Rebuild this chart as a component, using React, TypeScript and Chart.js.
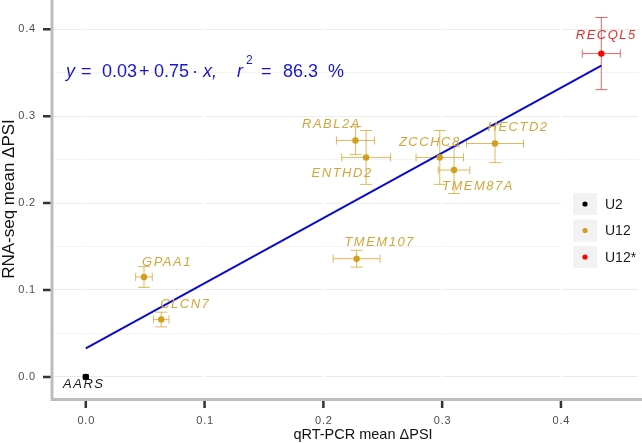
import React, { useEffect, useRef } from 'react';
import { Chart, registerables } from 'chart.js';

Chart.register(...registerables);

// ---------------- data ----------------
const genes = ['AARS', 'GPAA1', 'CLCN7', 'TMEM107', 'RABL2A', 'ENTHD2', 'ZCCHC8', 'TMEM87A', 'HECTD2', 'RECQL5'];
const groups = ['U2', 'U12', 'U12', 'U12', 'U12', 'U12', 'U12', 'U12', 'U12', 'U12*'];
const qpcrMean = [0, 0.049, 0.0635, 0.228, 0.227, 0.236, 0.298, 0.31, 0.3445, 0.434];
const qpcrErr = [0.002, 0.007, 0.0065, 0.0197, 0.016, 0.0205, 0.02, 0.0133, 0.024, 0.016];
const rnaseqMean = [0, 0.115, 0.066, 0.136, 0.272, 0.2525, 0.2525, 0.238, 0.2685, 0.372];
const rnaseqErr = [0.002, 0.012, 0.0085, 0.0097, 0.016, 0.031, 0.031, 0.027, 0.022, 0.0415];
const fitX = [0, 0.434];
const fitY = [0.0327, 0.358];
const legendLabels = ['U2', 'U12', 'U12*'];
const xTicks = [0, 0.1, 0.2, 0.3, 0.4];
const yTicks = [0, 0.1, 0.2, 0.3, 0.4];
const tickLabel = (v: number) => v.toFixed(1);

// ---------------- styles / layout ----------------
const FONT = '"Liberation Sans", Arial, Helvetica, sans-serif';
const pointColor: Record<string, string> = { U2: '#000000', U12: '#D39E1E', 'U12*': '#FF0000' };
const barColor: Record<string, string> = { U2: 'rgba(0,0,0,0.7)', U12: 'rgba(214,160,40,0.75)', 'U12*': 'rgba(238,50,50,0.75)' };
const labelColor: Record<string, string> = { U2: '#1a1a1a', U12: '#D4A53A', 'U12*': '#E2302C' };
// label offsets in pixels (dx, dy) relative to the point
const labelOffsets: [number, number][] = [
  [-2, 7], [23, -15], [24, -15], [23, -16], [-24, -16], [-24, 16], [-10, -15], [24, 16], [23, -16], [5, -18],
];

const W = 642;
const H = 443;

const customPlugin = {
  id: 'customDraw',
  beforeDraw(chart: any) {
    const ctx = chart.ctx;
    ctx.save();
    ctx.fillStyle = '#ffffff';
    ctx.fillRect(0, 0, chart.width, chart.height);
    ctx.restore();
  },
  beforeDatasetsDraw(chart: any) {
    const { ctx, chartArea, scales } = chart;
    const x = scales.x;
    const y = scales.y;
    ctx.save();
    // white vertical major grid lines
    ctx.strokeStyle = '#ffffff';
    ctx.lineWidth = 2;
    xTicks.forEach((v) => {
      const px = x.getPixelForValue(v);
      ctx.beginPath();
      ctx.moveTo(px, chartArea.top);
      ctx.lineTo(px, chartArea.bottom);
      ctx.stroke();
    });
    // error bars
    ctx.lineWidth = 1;
    for (let i = 0; i < genes.length; i++) {
      const g = groups[i];
      ctx.strokeStyle = barColor[g];
      const cx = x.getPixelForValue(qpcrMean[i]);
      const cy = y.getPixelForValue(rnaseqMean[i]);
      const x1 = x.getPixelForValue(qpcrMean[i] - qpcrErr[i]);
      const x2 = x.getPixelForValue(qpcrMean[i] + qpcrErr[i]);
      const y1 = y.getPixelForValue(rnaseqMean[i] - rnaseqErr[i]);
      const y2 = y.getPixelForValue(rnaseqMean[i] + rnaseqErr[i]);
      const capW = g === 'U2' ? 3 : 6;
      const capH = g === 'U2' ? 3 : 4;
      ctx.beginPath();
      // vertical
      ctx.moveTo(cx, y1);
      ctx.lineTo(cx, y2);
      ctx.moveTo(cx - capW, y1);
      ctx.lineTo(cx + capW, y1);
      ctx.moveTo(cx - capW, y2);
      ctx.lineTo(cx + capW, y2);
      // horizontal
      ctx.moveTo(x1, cy);
      ctx.lineTo(x2, cy);
      ctx.moveTo(x1, cy - capH);
      ctx.lineTo(x1, cy + capH);
      ctx.moveTo(x2, cy - capH);
      ctx.lineTo(x2, cy + capH);
      ctx.stroke();
    }
    ctx.restore();
  },
  afterDatasetsDraw(chart: any) {
    const { ctx, chartArea, scales } = chart;
    const x = scales.x;
    const y = scales.y;
    ctx.save();

    // point labels
    ctx.font = `italic 13px ${FONT}`;
    (ctx as any).letterSpacing = '1.5px';
    ctx.textAlign = 'center';
    ctx.textBaseline = 'middle';
    for (let i = 0; i < genes.length; i++) {
      const cx = x.getPixelForValue(qpcrMean[i]);
      const cy = y.getPixelForValue(rnaseqMean[i]);
      ctx.fillStyle = labelColor[groups[i]];
      ctx.fillText(genes[i], cx + labelOffsets[i][0], cy + labelOffsets[i][1]);
    }
    (ctx as any).letterSpacing = '0px';

    // legend (inside panel, right)
    ctx.fillStyle = '#ffffff';
    ctx.fillRect(563, 182, W - 563, 90);
    const legendCenters = [204, 230.5, 257];
    legendLabels.forEach((lab, i) => {
      const cy = legendCenters[i];
      ctx.fillStyle = '#f2f2f2';
      ctx.fillRect(573, cy - 11, 24, 22);
      ctx.fillStyle = pointColor[lab];
      ctx.beginPath();
      ctx.arc(585, cy, 2.6, 0, Math.PI * 2);
      ctx.fill();
      ctx.fillStyle = '#1a1a1a';
      ctx.font = `14px ${FONT}`;
      ctx.textAlign = 'left';
      ctx.textBaseline = 'middle';
      ctx.fillText(lab, 605, cy + 1);
    });

    // axis lines
    ctx.strokeStyle = '#bdbdbd';
    ctx.lineWidth = 3;
    ctx.beginPath();
    ctx.moveTo(52, 0);
    ctx.lineTo(52, chartArea.bottom + 3);
    ctx.moveTo(50.5, chartArea.bottom + 1.5);
    ctx.lineTo(W, chartArea.bottom + 1.5);
    ctx.stroke();

    // ticks
    ctx.strokeStyle = '#333333';
    ctx.lineWidth = 2.5;
    ctx.beginPath();
    yTicks.forEach((v) => {
      const py = y.getPixelForValue(v);
      ctx.moveTo(43, py);
      ctx.lineTo(50.5, py);
    });
    xTicks.forEach((v) => {
      const px = x.getPixelForValue(v);
      ctx.moveTo(px, chartArea.bottom + 3);
      ctx.lineTo(px, chartArea.bottom + 10);
    });
    ctx.stroke();

    // tick labels
    ctx.fillStyle = '#4d4d4d';
    ctx.font = `11px ${FONT}`;
    (ctx as any).letterSpacing = '0.8px';
    ctx.textAlign = 'right';
    ctx.textBaseline = 'middle';
    yTicks.forEach((v) => {
      ctx.fillText(tickLabel(v), 36, y.getPixelForValue(v));
    });
    ctx.textAlign = 'center';
    ctx.textBaseline = 'alphabetic';
    xTicks.forEach((v) => {
      ctx.fillText(tickLabel(v), x.getPixelForValue(v) + 0.5, 424);
    });
    (ctx as any).letterSpacing = '0px';

    // axis titles
    ctx.fillStyle = '#111111';
    ctx.font = `14.5px ${FONT}`;
    ctx.textAlign = 'center';
    ctx.textBaseline = 'alphabetic';
    ctx.fillText('qRT-PCR mean ΔPSI', 363, 439);
    ctx.save();
    ctx.translate(14, 199);
    ctx.rotate(-Math.PI / 2);
    ctx.font = `17px ${FONT}`;
    ctx.fillText('RNA-seq mean ΔPSI', 0, 0);
    ctx.restore();

    // regression equation
    ctx.fillStyle = '#1616d2';
    ctx.textAlign = 'left';
    ctx.textBaseline = 'alphabetic';
    const base = 77;
    const pieces: [string, number, boolean][] = [
      ['y', 66, true],
      ['=', 81, false],
      ['0.03', 102, false],
      ['+', 139, false],
      ['0.75', 154, false],
      ['·', 192, false],
      ['x,', 203, true],
      ['r', 237, true],
      ['=', 261, false],
      ['86.3', 283, false],
      ['%', 328, false],
    ];
    pieces.forEach(([t, px, it]) => {
      ctx.font = `${it ? 'italic ' : ''}18px ${FONT}`;
      ctx.fillText(t, px, base);
    });
    ctx.font = `12px ${FONT}`;
    ctx.fillText('2', 246, 64);

    ctx.restore();
  },
};

export default function App() {
  const canvasRef = useRef<HTMLCanvasElement | null>(null);

  useEffect(() => {
    const canvas = canvasRef.current;
    if (!canvas) return;

    const groupDatasets = legendLabels.map((g) => {
      const pts: { x: number; y: number }[] = [];
      for (let i = 0; i < genes.length; i++) {
        if (groups[i] === g) pts.push({ x: qpcrMean[i], y: rnaseqMean[i] });
      }
      return {
        type: 'scatter' as const,
        label: g,
        data: pts,
        pointRadius: 3.2,
        pointBorderWidth: 0,
        pointBackgroundColor: pointColor[g],
        borderColor: pointColor[g],
        showLine: false,
      };
    });

    const fitDataset = {
      type: 'line' as const,
      label: 'fit',
      data: fitX.map((v, i) => ({ x: v, y: fitY[i] })),
      borderColor: '#0a0acc',
      borderWidth: 2,
      pointRadius: 0,
      fill: false,
      tension: 0,
    };

    const chart = new Chart(canvas, {
      type: 'scatter',
      data: { datasets: [...groupDatasets, fitDataset] as any },
      options: {
        animation: false,
        responsive: false,
        maintainAspectRatio: false,
        devicePixelRatio: 1,
        layout: { padding: 0 },
        plugins: { legend: { display: false }, tooltip: { enabled: false } },
        scales: {
          x: {
            type: 'linear',
            position: 'bottom',
            min: -0.02676,
            max: 0.46488,
            ticks: { display: false, stepSize: 0.1, includeBounds: false },
            grid: { display: false, drawTicks: false },
            border: { display: false },
            afterFit: (s: any) => {
              s.height = 45;
            },
          },
          y: {
            type: 'linear',
            position: 'left',
            min: -0.02426,
            max: 0.42904,
            ticks: { display: false, stepSize: 0.05, includeBounds: false },
            grid: {
              drawTicks: false,
              lineWidth: 1,
              color: (c: any) => {
                const v = c.tick ? c.tick.value : 0;
                const major = Math.abs(v * 10 - Math.round(v * 10)) < 1e-6;
                return major ? '#ebebeb' : '#f3f3f3';
              },
            },
            border: { display: false },
            afterFit: (s: any) => {
              s.width = 54;
            },
          },
        },
      },
      plugins: [customPlugin],
    });

    return () => {
      chart.destroy();
    };
  }, []);

  return (
    <div style={{ position: 'absolute', left: 0, top: 0, width: W, height: H, background: '#fff' }}>
      <canvas ref={canvasRef} width={W} height={H} style={{ display: 'block', width: W, height: H }} />
    </div>
  );
}
